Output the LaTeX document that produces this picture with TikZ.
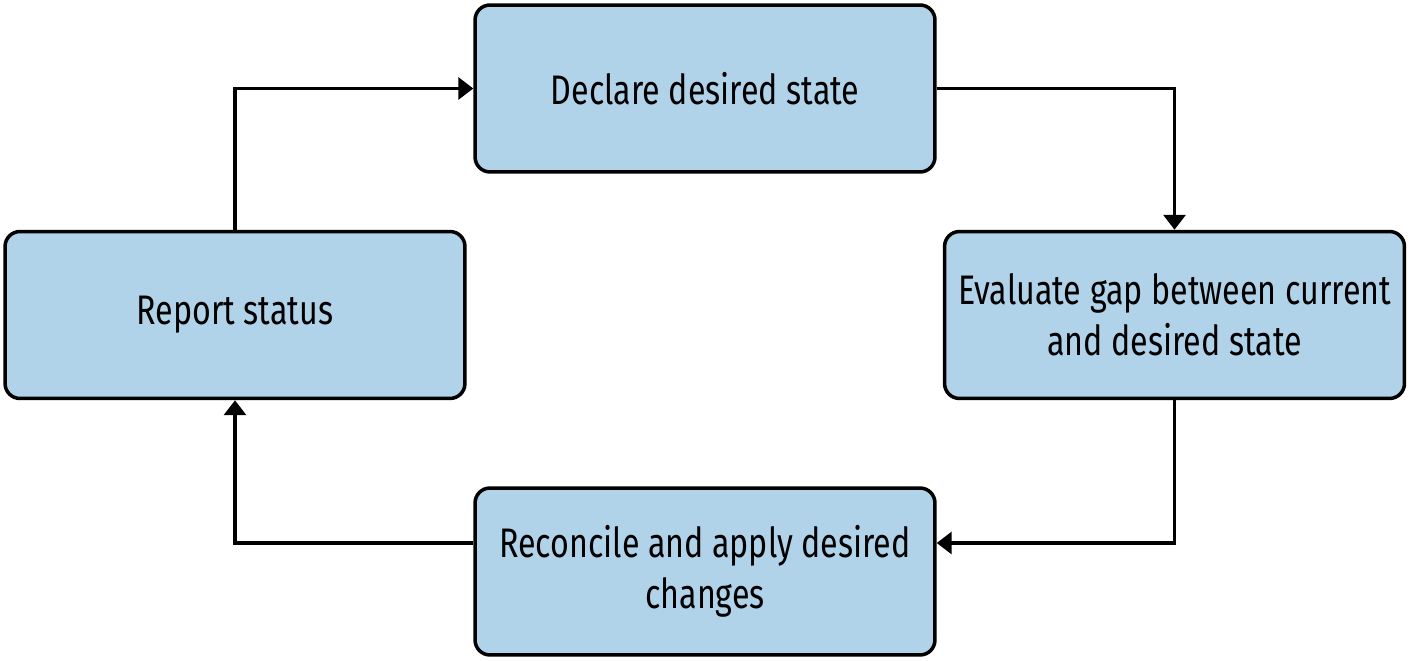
\documentclass[tikz,border=0pt]{standalone}
\usepackage{fontspec}
\setmainfont[FakeStretch=0.78]{Fira Sans}
\usetikzlibrary{arrows.meta}
\definecolor{boxblue}{HTML}{B1D3E9}
\begin{document}
\begin{tikzpicture}[x=0.02cm, y=0.02cm,
  stage/.style={draw, line width=2pt, rounded corners=0.3cm, fill=boxblue,
    minimum width=9.2cm, minimum height=3.34cm, align=center,
    font=\fontsize{23.5}{29}\selectfont},
  flow/.style={line width=1.9pt, -{Triangle[length=0.3cm, width=0.44cm]}}]
  \useasboundingbox (0,0) rectangle (1409,-661);
  % stages
  \node[stage] (declare) at (705,-88.5) {Declare desired state};
  \node[stage] (evaluate) at (1174.5,-315) {Evaluate gap between current\\and desired state};
  \node[stage] (reconcile) at (705,-571.5) {Reconcile and apply desired\\changes};
  \node[stage] (report) at (235,-315) {Report status};
  % loop
  \draw[flow] (report.north) |- (declare.west);
  \draw[flow] (declare.east) -| (evaluate.north);
  \draw[flow] (evaluate.south) |- ([yshift=0.57cm]reconcile.east);
  \draw[flow] ([yshift=0.57cm]reconcile.west) -| (report.south);
\end{tikzpicture}
\end{document}
